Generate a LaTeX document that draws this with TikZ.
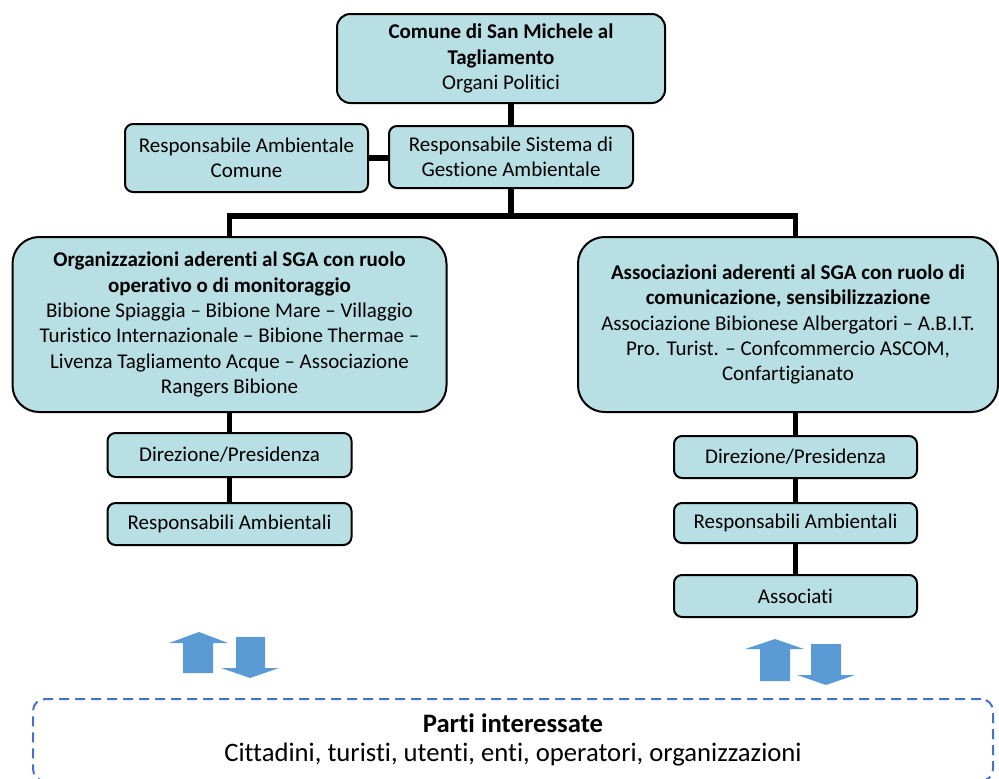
\documentclass[tikz,border=0pt]{standalone}
\usepackage{fontspec}
\setmainfont{Carlito}[Ligatures={TeX,NoCommon}]
\usetikzlibrary{positioning}
\definecolor{boxfill}{RGB}{184,223,227}
\definecolor{arrblue}{RGB}{91,155,213}
\definecolor{dashblue}{RGB}{68,114,196}

\begin{document}
\begin{tikzpicture}[x=0.75pt, y=-0.75pt,
    box/.style={draw, line width=1.5pt, fill=boxfill, rounded corners=6pt, align=center, inner sep=0pt, font=\fontsize{15.75}{19}\selectfont},
    bigbox/.style={box, rounded corners=20pt},
    link/.style={line width=3.8pt},
    updown/.style={fill=arrblue},
    parti/.style={draw=dashblue, line width=1.5pt, dash pattern=on 7.5pt off 4.5pt, rounded corners=9pt, align=center, inner sep=0pt, font=\fontsize{20}{21.75}\selectfont}]
    \useasboundingbox (0,0) rectangle (999,778);
    \clip (0,0) rectangle (999,778);
    % top of the chart
    \node[box, rounded corners=10pt, minimum width=246pt, minimum height=66.75pt] (Com) at (501,58.5)
      {\textbf{Comune di San Michele al}\\\textbf{Tagliamento}\\Organi Politici};
    \node[box, minimum width=183pt, minimum height=46.5pt] (RSGA) at (511,157)
      {Responsabile Sistema di\\Gestione Ambientale};
    \node[box, minimum width=182.25pt, minimum height=51pt] (RAC) at (246.5,158)
      {Responsabile Ambientale\\Comune};
    \coordinate (J) at (511,216);
    % the two groups
    \node[bigbox, minimum width=325.5pt, minimum height=131.25pt] (Org) at (229.5,324.5)
      {\textbf{Organizzazioni aderenti al SGA con ruolo}\\\textbf{operativo o di monitoraggio}\\Bibione Spiaggia – Bibione Mare – Villaggio\\Turistico Internazionale – Bibione Thermae –\\Livenza Tagliamento Acque – Associazione\\Rangers Bibione};
    \node[bigbox, minimum width=315pt, minimum height=131.25pt] (Ass) at (788,324.5)
      {\textbf{Associazioni aderenti al SGA con ruolo di}\\\textbf{comunicazione, sensibilizzazione}\\Associazione Bibionese Albergatori – A.B.I.T.\\Pro. Turist. – Confcommercio ASCOM,\\Confartigianato};
    \node[box, minimum width=183pt, minimum height=33pt] (D1) at (229.5,455) {Direzione/Presidenza};
    \node[box, minimum width=183pt, minimum height=31.5pt] (R1) at (229.5,524) {Responsabili Ambientali};
    \node[box, minimum width=182.25pt, minimum height=31.5pt] (D2) at (795.5,457) {Direzione/Presidenza};
    \node[box, minimum width=182.25pt, minimum height=30pt] (R2) at (795.5,523) {Responsabili Ambientali};
    \node[box, minimum width=182.25pt, minimum height=31.5pt] (A2) at (795.5,596) {Associati};
    % connectors
    \draw[link] (RSGA.north) -- (RSGA.north |- Com.south);
    \draw[link] (RAC.east) -- (RAC.east -| RSGA.west);
    \draw[link] (RSGA.south) -- (J);
    \draw[link] (Org.north) |- (J) -| (D2.north |- Ass.north);
    \draw[link] (D1.north) -- (D1.north |- Org.south);
    \draw[link] (R1.north) -- (D1.south);
    \draw[link] (D2.north) -- (D2.north |- Ass.south);
    \draw[link] (R2.north) -- (D2.south);
    \draw[link] (A2.north) -- (R2.south);
    % up / down arrows
    \fill[updown] (199,632) -- (228,643) -- (213,643) -- (213,673) -- (183,673) -- (183,643) -- (169,643) -- cycle;
    \fill[updown] (250,678) -- (279,668) -- (265,668) -- (265,637) -- (236,637) -- (236,668) -- (221,668) -- cycle;
    \fill[updown] (775,639) -- (804,649) -- (790,649) -- (790,681) -- (760,681) -- (760,649) -- (745,649) -- cycle;
    \fill[updown] (826,685) -- (855,675) -- (841,675) -- (841,644) -- (811,644) -- (811,675) -- (797,675) -- cycle;
    % stakeholders
    \node[parti, minimum width=720pt, minimum height=61.5pt] (P) at (513,740)
      {\textbf{Parti interessate}\\Cittadini, turisti, utenti, enti, operatori, organizzazioni};
\end{tikzpicture}
\end{document}
